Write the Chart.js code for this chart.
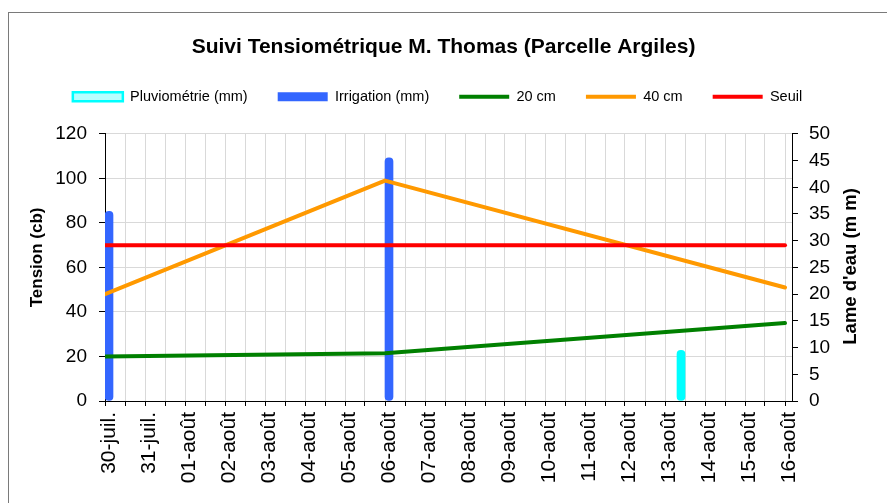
<!DOCTYPE html>
<html lang="fr">
<head>
<meta charset="utf-8">
<title>Suivi Tensiométrique M. Thomas (Parcelle Argiles)</title>
<script src="https://cdn.jsdelivr.net/npm/chart.js@4.4.1/dist/chart.umd.min.js"></script>
<style>
  html, body { margin: 0; padding: 0; background: #fff; overflow: hidden; }
  #cadre { position: absolute; left: 8px; top: 12px; width: 1000px; height: 700px; border: 1px solid #7a7a7a; }
  #zone { position: absolute; left: 0; top: 0; width: 887px; height: 503px; }
</style>
</head>
<body>
<div id="cadre"></div>
<div id="zone"><canvas id="canvasTension"></canvas></div>
<script>
// Jours de l'axe des abscisses (rang 0 = 30-juil.)
const jours = ['30-juil.', '31-juil.', '01-août', '02-août', '03-août', '04-août', '05-août', '06-août', '07-août',
  '08-août', '09-août', '10-août', '11-août', '12-août', '13-août', '14-août', '15-août', '16-août'];

// Relevés des tensiomètres (cb)
const joursReleves = [0, 7, 17];
const tension20 = [20, 21.5, 35];
const tension40 = [48, 99, 51];
const seuil = 70;

// Apports d'eau (mm)
const joursIrrigation = [0, 7];
const irrigation = [35.5, 45.5];
const joursPluie = [14.5];
const pluviometrie = [9.5];

// Bornes des axes
const tensionMax = 120, tensionPas = 20;
const lameMax = 50, lamePas = 5;

const police = "'Liberation Sans', Arial, sans-serif";
Chart.defaults.font.family = police;
Chart.defaults.color = '#000';

const points = (xs, ys) => xs.map((x, i) => ({ x: x, y: ys[i] }));

//Plugin pour laisser de l'espace sous la légende et la décaler un peu à gauche
const espaceLegende = {
    id: 'espaceLegende',
    beforeInit(chart) {
        const fitOrigine = chart.legend.fit;
        chart.legend.fit = function () {
            fitOrigine.call(this);
            this.height += 19.75;
        };
    },
    afterLayout(chart) {
        chart.legend.left -= 6;
        chart.legend.right -= 6;
    }
};

//Titres des axes écrits de bas en haut (comme Excel)
const ecrireVertical = (ctx, texte, x, y, taille) => {
    ctx.save();
    ctx.translate(x, y);
    ctx.rotate(-Math.PI / 2);
    ctx.font = `bold ${taille}px ${police}`;
    ctx.fillStyle = '#000';
    ctx.textAlign = 'center';
    ctx.textBaseline = 'middle';
    ctx.fillText(texte, 0, 0);
    ctx.restore();
};
const titresAxes = {
    id: 'titresAxes',
    afterDraw(chart) {
        const { ctx, chartArea, scales } = chart;
        const milieu = (chartArea.top + chartArea.bottom) / 2;
        ecrireVertical(ctx, 'Tension (cb)', scales.y.left + 37, milieu - 10, 17);
        ecrireVertical(ctx, "Lame d'eau (m m)", scales.y2.right - 36, milieu - 1, 18.5);
    }
};

const ctx = document.getElementById('canvasTension').getContext('2d');
window.graphique = new Chart(ctx, {
    type: 'line',
    data: {
        datasets: [{
            type: 'bar',
            label: 'Pluviométrie (mm)',
            data: points(joursPluie, pluviometrie),
            yAxisID: 'y2',
            backgroundColor: '#00ffff',
            barThickness: 8,
            borderRadius: 4,
            borderSkipped: false,
            order: 4,
            legendFill: '#b8ffff',
            legendStroke: '#00ffff',
            legendWidth: 2.5
        },
        {
            type: 'bar',
            label: 'Irrigation (mm)',
            data: points(joursIrrigation, irrigation),
            yAxisID: 'y2',
            backgroundColor: '#3366ff',
            barThickness: 8,
            borderRadius: 4,
            borderSkipped: false,
            order: 5,
            legendFill: '#3366ff',
            legendStroke: '#3366ff',
            legendWidth: 0
        },
        {
            label: '20 cm',
            data: points(joursReleves, tension20),
            yAxisID: 'y',
            borderColor: '#008000',
            backgroundColor: '#008000',
            borderWidth: 4,
            order: 3
        },
        {
            label: '40 cm',
            data: points(joursReleves, tension40),
            yAxisID: 'y',
            borderColor: '#ff9900',
            backgroundColor: '#ff9900',
            borderWidth: 4,
            order: 2
        },
        {
            label: 'Seuil',
            data: jours.map((_, i) => ({ x: i, y: seuil })),
            yAxisID: 'y',
            borderColor: '#ff0000',
            backgroundColor: '#ff0000',
            borderWidth: 4,
            order: 1
        }]
    },
    options: {
        responsive: true,
        maintainAspectRatio: false,
        animation: false,
        layout: { padding: 0 },
        elements: {
            point: { radius: 0 },
            line: { borderCapStyle: 'round', borderJoinStyle: 'round', tension: 0 }
        },
        plugins: {
            title: {
                display: true,
                text: 'Suivi Tensiométrique M. Thomas (Parcelle Argiles)',
                font: { size: 21, weight: 'bold' },
                color: '#000',
                padding: { top: 34.4, bottom: 0 }
            },
            legend: {
                labels: {
                    usePointStyle: true,
                    pointStyleWidth: 50,
                    boxHeight: 9,
                    padding: 30,
                    font: { size: 14.5 },
                    generateLabels: (chart) => chart.data.datasets.map((ds, i) => ({
                        text: ds.label,
                        datasetIndex: i,
                        pointStyle: ds.type === 'bar' ? 'rect' : 'line',
                        fillStyle: ds.legendFill || ds.borderColor,
                        strokeStyle: ds.legendStroke || ds.borderColor,
                        lineWidth: ds.type === 'bar' ? ds.legendWidth : 4,
                        lineCap: 'butt',
                        hidden: false,
                        fontColor: '#000'
                    }))
                }
            },
            tooltip: { enabled: false }
        },
        scales: {
            x: {
                type: 'linear',
                offset: false,
                min: 0,
                max: jours.length - 1 + 0.175,
                afterFit: (scale) => { scale.height = 102; },
                grid: { offset: false, color: '#d9d9d9', tickColor: '#000', tickLength: 5 },
                border: { color: '#000', width: 1 },
                ticks: {
                    stepSize: 0.5,
                    includeBounds: false,
                    autoSkip: false,
                    minRotation: 90,
                    maxRotation: 90,
                    padding: 6,
                    labelOffset: 4,
                    font: { size: 21 },
                    callback: (valeur) => Number.isInteger(valeur) ? jours[valeur] : ''
                }
            },
            y: {
                position: 'left',
                min: 0,
                max: tensionMax,
                afterFit: (scale) => { scale.width = 105; },
                grid: { color: '#d9d9d9', tickColor: '#000', tickLength: 6 },
                border: { color: '#000', width: 1 },
                ticks: { stepSize: tensionPas, padding: 12, font: { size: 19 } }
            },
            y2: {
                position: 'right',
                min: 0,
                max: lameMax,
                afterFit: (scale) => { scale.width = 95; },
                grid: { drawOnChartArea: false, tickColor: '#000', tickLength: 6 },
                border: { color: '#000', width: 1 },
                ticks: { stepSize: lamePas, padding: 11, font: { size: 19 } }
            }
        }
    },
    plugins: [espaceLegende, titresAxes]
});
</script>
</body>
</html>
